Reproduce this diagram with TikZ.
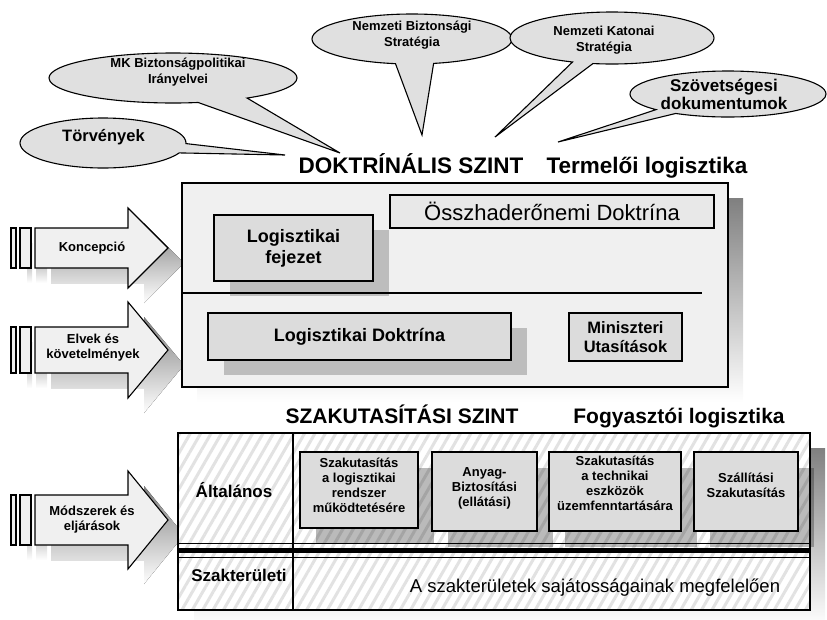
\documentclass[tikz,border=0pt]{standalone}
\usepackage{fontspec}
\setmainfont{Liberation Sans}
\usetikzlibrary{shapes.callouts,patterns.meta,shadows}
\definecolor{calloutfill}{HTML}{E0E0E0}
\definecolor{boxfill}{HTML}{DCDCDC}
\definecolor{boxfilltwo}{HTML}{E8E8E8}
\definecolor{shade}{HTML}{BDBDBD}
\definecolor{lightfill}{HTML}{F0F0F0}
\definecolor{stripe}{HTML}{E2E2E2}
\newcommand\myBigArrow[3]{%
  \begin{scope}[shift={(16,15)}]
    \fill[shade] (11,{#1-#2}) rectangle (16,{#1+#2});
    \fill[shade] (20,{#1-#2}) rectangle (31,{#1+#2});
    \fill[shade] (35,{#1-#2}) -- (128,{#1-#2}) -- (128,{#1-#3}) -- (168,#1) -- (128,{#1+#3}) -- (128,{#1+#2}) -- (35,{#1+#2}) -- cycle;
  \end{scope}
  \filldraw[arrowbody] (11,{#1-#2}) rectangle (16,{#1+#2});
  \filldraw[arrowbody] (20,{#1-#2}) rectangle (31,{#1+#2});
  \filldraw[arrowbody] (35,{#1-#2}) -- (128,{#1-#2}) -- (128,{#1-#3}) -- (168,#1) -- (128,{#1+#3}) -- (128,{#1+#2}) -- (35,{#1+#2}) -- cycle;
}
\begin{document}
\begin{tikzpicture}[x=1pt,y=-1pt,
  callout/.style={ellipse callout, draw, line width=1.1pt, fill=calloutfill, inner sep=0pt},
  ctext/.style={align=center, inner sep=0pt, font=\bfseries\fontsize{13}{15.5}\selectfont},
  title/.style={font=\bfseries\fontsize{22.5}{26}\selectfont, inner sep=0pt, anchor=base},
  titletwo/.style={font=\bfseries\fontsize{21}{25}\selectfont, inner sep=0pt, anchor=base},
  frame/.style={draw, line width=1.2pt},
  arrowbody/.style={draw, line width=1.1pt, fill=lightfill},
  gbox/.style={draw, line width=1.2pt, fill=boxfill, align=center, inner sep=0pt},
  bigshadow/.style={drop shadow={shadow xshift=16pt, shadow yshift=-15pt, fill=shade, opacity=1}},
  lowshadow/.style={drop shadow={shadow xshift=16pt, shadow yshift=-16pt, fill=black, opacity=0.27}},
  ibox/.style={gbox},
  itext/.style={align=center, inner sep=0pt, font=\bfseries\fontsize{13}{15}\selectfont},
  arrowtext/.style={font=\bfseries\fontsize{13}{15}\selectfont, align=center, inner sep=0pt},
  sectext/.style={font=\bfseries\fontsize{17}{20}\selectfont, inner sep=0pt},
]
\useasboundingbox (0,0) rectangle (827,619);

% callouts
\node[callout, minimum width=166, minimum height=50, callout absolute pointer={(285,155)},
      callout pointer arc=22] (torv) at (103,143) {};
\node[callout, minimum width=248, minimum height=50, callout absolute pointer={(340,153)},
      callout pointer arc=25] (mk) at (173,78) {};
\node[callout, minimum width=200, minimum height=50, callout absolute pointer={(422,135)},
      callout pointer arc=22] (nbs) at (412,39) {};
\node[callout, minimum width=204, minimum height=52, callout absolute pointer={(495,137)},
      callout pointer arc=12] (nks) at (612,38) {};
\node[callout, minimum width=196, minimum height=46, callout absolute pointer={(558,142)},
      callout pointer arc=15] (szd) at (728,94) {};
\node[ctext, font=\bfseries\fontsize{16.5}{19}\selectfont] (torvt) at (103.5,137) {Törvények};
\node[ctext] (mkt) at (178,72) {MK Biztonságpolitikai\\Irányelvei};
\node[ctext] (nbst) at (412,35) {Nemzeti Biztonsági\\Stratégia};
\node[ctext] (nkst) at (604,40) {Nemzeti Katonai\\Stratégia};
\node[ctext, font=\bfseries\fontsize{17}{18}\selectfont] (szdt) at (724,94) {Szövetségesi\\dokumentumok};

% titles
\node[title] (t1) at (411,173) {DOKTRÍNÁLIS SZINT};
\node[title] (t2) at (647,173) {Termelői logisztika};
\node[titletwo] (t3) at (402,423) {SZAKUTASÍTÁSI SZINT};
\node[titletwo] (t4) at (679,423) {Fogyasztói logisztika};

% arrows
\myBigArrow{248}{20}{40}
\myBigArrow{350}{23}{48}
\myBigArrow{520}{25}{49}
\node[arrowtext] (a1) at (92,248) {Koncepció};
\node[arrowtext] (a2) at (93,348) {Elvek és\\követelmények};
\node[arrowtext] (a3) at (92,520) {Módszerek és\\eljárások};

% doctrinal box
\fill[shade] (197,198) rectangle (743,402);
\filldraw[frame, fill=lightfill] (182,183) rectangle (728,387);
\node[gbox, bigshadow, minimum width=159, minimum height=66, font=\bfseries\fontsize{18}{21}\selectfont]
  (lf) at (293.5,248) {Logisztikai\\fejezet};
\draw[line width=1.2pt] (182,293) -- (702,293);
\node[gbox, fill=boxfilltwo, minimum width=324, minimum height=33, font=\fontsize{22}{26}\selectfont]
  (ossz) at (552,211.5) {Összhaderőnemi Doktrína};
\node[gbox, bigshadow, minimum width=303, minimum height=47, font=\bfseries\fontsize{18}{21}\selectfont]
  (ld) at (359.5,336.5) {Logisztikai Doktrína};
\node[gbox, minimum width=113, minimum height=48, font=\bfseries\fontsize{16.5}{19}\selectfont]
  (mu) at (625.5,337) {Miniszteri\\Utasítások};

% professional instruction box
\fill[shade] (194,448) rectangle (825,626);
\fill[white] (178,433) rectangle (810,610);
\fill[pattern={Lines[angle=60,distance=9pt,line width=3pt]}, pattern color=stripe] (178,433) rectangle (810,610);
\draw[frame] (178,433) rectangle (810,610);
\draw[line width=1.2pt] (293,433) -- (293,610);
\node[ibox, lowshadow, minimum width=118, minimum height=76] (b1) at (359,490) {};
\node[ibox, lowshadow, minimum width=105, minimum height=79] (b2) at (484.5,491.5) {};
\node[ibox, lowshadow, minimum width=132, minimum height=79] (b3) at (615,491.5) {};
\node[ibox, lowshadow, minimum width=104, minimum height=79] (b4) at (746,491.5) {};
\node[itext] (b1t) at (359,485) {Szakutasítás\\a logisztikai\\rendszer\\működtetésére};
\node[itext] (b2t) at (484.5,488) {Anyag-\\Biztosítási\\(ellátási)};
\node[itext] (b3t) at (615,483.5) {Szakutasítás\\a technikai\\eszközök\\üzemfenntartására};
\node[itext] (b4t) at (746,485) {Szállítási\\Szakutasítás};
\draw[line width=1.5pt] (178,543.5) -- (810,543.5);
\draw[line width=5pt] (178,550.5) -- (810,550.5);
\draw[line width=1.5pt] (178,557.5) -- (810,557.5);
\node[sectext] (alt) at (234,490) {Általános};
\node[sectext] (szt) at (239,575) {Szakterületi};
\node[font=\fontsize{18.5}{22}\selectfont, inner sep=0pt] (sajat) at (595,588)
  {A szakterületek sajátosságainak megfelelően};
\end{tikzpicture}
\end{document}
